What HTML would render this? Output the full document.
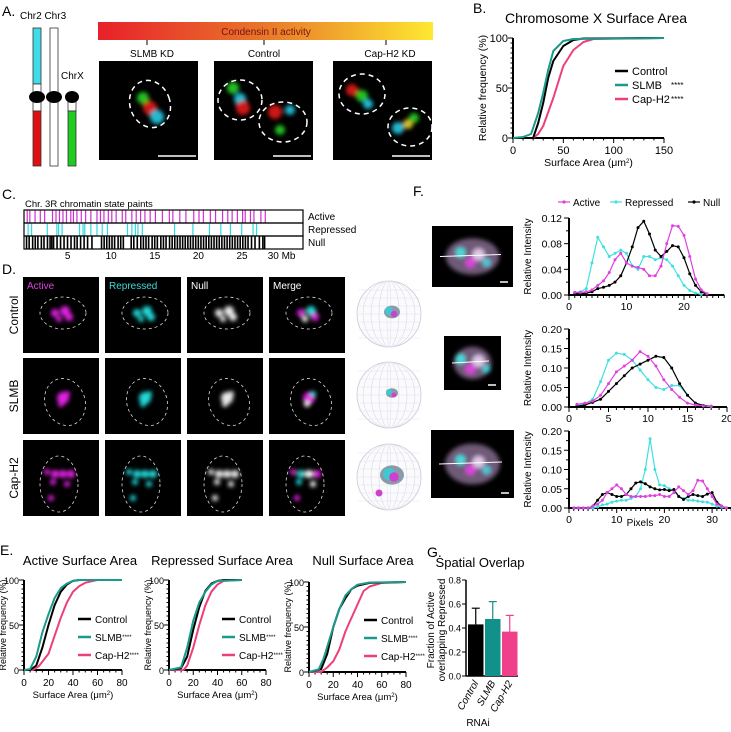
<!DOCTYPE html>
<html><head><meta charset="utf-8"><style>
html,body{margin:0;padding:0;background:#fff}
svg{display:block;font-family:"Liberation Sans",Arial,sans-serif}
</style></head><body>
<svg id="fig" width="731" height="732" viewBox="0 0 731 732" xmlns="http://www.w3.org/2000/svg">
<defs>
<linearGradient id="cond" x1="0" x2="1" y1="0" y2="0"><stop offset="0" stop-color="#e8202a"/><stop offset="0.5" stop-color="#e8782a"/><stop offset="1" stop-color="#fde830"/></linearGradient>
<filter id="bl" x="-50%" y="-50%" width="200%" height="200%"><feGaussianBlur stdDeviation="2.2"/></filter>
</defs>
<rect width="731" height="732" fill="#fff"/>
<g>
<text x="2" y="16" font-size="14">A.</text>
<text x="20" y="19" font-size="10">Chr2 Chr3</text>
<text x="61" y="79" font-size="10">ChrX</text>
<rect x="33" y="28" width="8" height="56" fill="#40dce8" stroke="#333" stroke-width="0.8"/>
<rect x="33" y="84" width="8" height="27" fill="#fff" stroke="#333" stroke-width="0.8"/>
<rect x="33" y="111" width="8" height="55" fill="#e01010" stroke="#333" stroke-width="0.8"/>
<rect x="50" y="28" width="8" height="138" fill="#fff" stroke="#333" stroke-width="0.8"/>
<rect x="68" y="97" width="8" height="14" fill="#fff" stroke="#333" stroke-width="0.8"/>
<rect x="68" y="111" width="8" height="55" fill="#20cc20" stroke="#333" stroke-width="0.8"/>
<ellipse cx="37" cy="97" rx="8" ry="6" fill="#000"/>
<ellipse cx="54" cy="97" rx="8" ry="6" fill="#000"/>
<ellipse cx="72" cy="97" rx="7" ry="6" fill="#000"/>
<rect x="98" y="22" width="335" height="18" fill="url(#cond)"/>
<text x="266" y="35" font-size="10" text-anchor="middle" fill="#7a1010">Condensin II activity</text>
<line x1="147" y1="40" x2="147" y2="45" stroke="#000"/><line x1="264" y1="40" x2="264" y2="45" stroke="#000"/><line x1="386" y1="40" x2="386" y2="45" stroke="#000"/>
<text x="152" y="57" font-size="10" text-anchor="middle">SLMB KD</text>
<text x="264" y="57" font-size="10" text-anchor="middle">Control</text>
<text x="390" y="57" font-size="10" text-anchor="middle">Cap-H2 KD</text>
<g>
<rect x="99" y="61" width="99" height="99" fill="#000"/>
<g filter="url(#bl)"><circle cx="143" cy="98" r="6" fill="#20c020"/><circle cx="150" cy="108" r="7" fill="#d01818"/><circle cx="157" cy="117" r="7" fill="#20b8d0"/></g>
<ellipse cx="150" cy="104" rx="20" ry="24" fill="none" stroke="#fff" stroke-width="1.5" stroke-dasharray="5 4" transform="rotate(-20 150 104)"/>
<line x1="158" y1="156" x2="196" y2="156" stroke="#fff" stroke-width="1.5"/>
</g>
<g>
<rect x="214" y="61" width="99" height="99" fill="#000"/>
<g filter="url(#bl)"><circle cx="233" cy="88" r="6" fill="#20c020"/><circle cx="240" cy="99" r="6" fill="#20b8d0"/><circle cx="243" cy="108" r="7" fill="#d01818"/><circle cx="275" cy="112" r="7" fill="#d01818"/><circle cx="290" cy="110" r="5" fill="#20b8d0"/><circle cx="280" cy="130" r="5" fill="#20c020"/></g>
<ellipse cx="240" cy="100" rx="22" ry="20" fill="none" stroke="#fff" stroke-width="1.5" stroke-dasharray="5 4"/>
<ellipse cx="283" cy="122" rx="24" ry="20" fill="none" stroke="#fff" stroke-width="1.5" stroke-dasharray="5 4"/>
<line x1="273" y1="156" x2="311" y2="156" stroke="#fff" stroke-width="1.5"/>
</g>
<g>
<rect x="333" y="61" width="99" height="99" fill="#000"/>
<g filter="url(#bl)"><circle cx="352" cy="90" r="6" fill="#d01818"/><circle cx="362" cy="96" r="6" fill="#20c020"/><circle cx="368" cy="104" r="5" fill="#20b8d0"/><circle cx="398" cy="128" r="6" fill="#20b8d0"/><circle cx="408" cy="124" r="5" fill="#d0c020"/><circle cx="414" cy="118" r="5" fill="#20c020"/></g>
<ellipse cx="362" cy="94" rx="23" ry="20" fill="none" stroke="#fff" stroke-width="1.5" stroke-dasharray="5 4"/>
<ellipse cx="410" cy="127" rx="22" ry="19" fill="none" stroke="#fff" stroke-width="1.5" stroke-dasharray="5 4"/>
<line x1="392" y1="156" x2="430" y2="156" stroke="#fff" stroke-width="1.5"/>
</g>
</g>
<g id="panelC">
<text x="2" y="199" font-size="14">C.</text>
<text x="25" y="207" font-size="9.5">Chr. 3R chromatin state paints</text>
<text x="308" y="220" font-size="10">Active</text>
<text x="308" y="233" font-size="10">Repressed</text>
<text x="308" y="246" font-size="10">Null</text>
</g>
<g id="panelD">
<text x="2" y="274" font-size="14">D.</text>
</g>
<g id="panelF">
<text x="413" y="196" font-size="14">F.</text>
</g>
<g id="panelB">
<text x="473" y="13" font-size="14">B.</text>
</g>
<g id="panelE">
<text x="0" y="555" font-size="14">E.</text>
</g>
<g id="panelG">
<text x="427" y="557" font-size="14">G.</text>
</g>
</svg>
<script>
// ---------- DATA ----------
const bControl=[[0,0],[10,0],[20,0],[25,15],[30,35],[35,60],[40,77],[50,92],[60,98],[70,99.5],[150,100]];
const bSlmb=[[0,0],[10,1],[18,4],[25,25],[30,45],[35,68],[40,87],[50,97],[60,99],[150,100]];
const bCap=[[0,0],[20,0],[25,4],[30,12],[40,40],[50,72],[60,88],[70,96],[80,99],[150,100]];
const eActControl=[[0,0],[5,0],[10,5],[15,25],[20,50],[25,72],[30,87],[35,95],[40,99],[45,100],[80,100]];
const eActSlmb=[[0,0],[5,1],[10,15],[15,42],[20,62],[25,80],[30,91],[35,96],[40,99],[45,100],[80,100]];
const eActCap=[[0,0],[7,0],[12,4],[20,18],[25,38],[30,58],[35,75],[40,87],[45,93],[50,97],[60,100],[80,100]];
const eRepControl=[[0,0],[10,2],[15,15],[20,45],[25,70],[30,88],[35,96],[40,99],[45,100],[60,100]];
const eRepSlmb=[[0,0],[10,3],[15,25],[20,55],[25,75],[30,87],[35,95],[40,99],[60,100]];
const eRepCap=[[0,0],[12,0],[15,5],[20,25],[25,50],[30,72],[35,87],[40,95],[45,99],[60,100]];
const eNullControl=[[0,0],[10,3],[15,20],[20,50],[25,70],[30,82],[35,92],[40,96],[50,99],[80,100]];
const eNullSlmb=[[0,0],[8,3],[12,15],[20,50],[25,70],[30,85],[35,92],[40,97],[50,99.5],[80,100]];
const eNullCap=[[0,0],[10,0],[15,5],[20,12],[25,25],[30,45],[35,60],[40,75],[45,90],[50,95],[60,99],[80,100]];
const f1Active=[.004,.004,.005,.008,.015,.022,.035,.055,.065,.05,.045,.043,.04,.03,.03,.045,.08,.108,.107,.093,.06,.025,.008,.002];
const f1Repressed=[.004,.005,.01,.05,.09,.075,.06,.065,.07,.065,.045,.04,.06,.06,.055,.058,.055,.045,.03,.015,.007,.003,.001];
const f1Null=[.002,.002,.003,.005,.01,.012,.015,.02,.03,.05,.075,.105,.115,.095,.07,.06,.068,.077,.075,.058,.033,.015,.005,.001];
const f2Active=[.007,.01,.015,.03,.06,.09,.105,.12,.142,.13,.105,.07,.045,.025,.01,.005,.003,.002];
const f2Repressed=[.003,.008,.02,.065,.12,.138,.135,.12,.095,.07,.05,.045,.055,.055,.03,.01,.003,.001];
const f2Null=[.002,.005,.012,.02,.04,.06,.08,.1,.11,.12,.13,.127,.1,.06,.03,.01,.004,.002];
const f3Active=[0,0,0,0,.005,.01,.02,.04,.05,.06,.05,.035,.03,.03,.03,.03,.032,.032,.035,.03,.03,.04,.055,.045,.035,.045,.072,.07,.05,.03,.01,.005,0];
const f3Repressed=[0,0,0,0,0,.003,.008,.01,.015,.018,.02,.02,.025,.03,.05,.1,.18,.1,.06,.058,.05,.045,.03,.025,.02,.02,.018,.016,.015,.01,.005,.002,0];
const f3Null=[0,0,0,0,.005,.02,.035,.04,.035,.03,.03,.035,.05,.065,.068,.063,.055,.05,.047,.048,.045,.048,.03,.022,.03,.035,.032,.03,.036,.04,.015,.005,0];
const gCategories=['Control','SLMB','Cap-H2'];
const gValues=[0.43,0.475,0.37];
const gErrors=[0.135,0.145,0.135];
const cActive=[0.3,0.6,1.2,1.8,2.3,3.2,3.6,4.0,4.4,4.8,5.3,5.6,6.0,6.5,7.0,7.6,8.3,8.7,9.1,9.6,10.0,10.5,11.2,11.6,12.3,12.8,13.3,13.8,14.4,15.0,15.8,16.6,17.0,17.8,18.5,19.4,20.0,20.5,21.3,21.9,22.7,23.3,23.8,24.4,25.0,25.3,25.9,26.3,27.1,27.6];
const cRepressed=[0.4,0.8,2.6,3.7,3.9,4.3,6.3,6.7,6.9,7.6,8.3,8.9,9.5,11.8,12.3,12.7,13.0,13.5,17.2,19.3,21.2,22.5,23.6,24.9,26.2,26.6];
const cNull=[0.2,0.5,0.9,1.2,1.5,1.9,2.2,2.6,2.9,3.1,3.3,3.7,4.1,4.5,4.9,5.3,5.7,6.0,6.4,6.8,7.2,7.7,8.8,9.1,9.4,9.7,10.0,10.3,10.7,11.0,11.3,12.2,12.5,12.9,13.3,13.6,13.9,14.2,14.6,14.9,15.2,15.6,15.9,16.2,16.6,16.9,17.2,17.5,17.8,18.1,18.4,18.7,19.0,19.3,19.6,19.9,20.2,20.5,20.8,21.1,21.4,21.7,22.0,22.3,22.6,22.9,23.2,23.5,23.8,24.1,24.4,24.7,25.0,25.3,25.6,26.0,26.4,26.9,27.3,27.5];
const cTicks=[5,10,15,20,25];

// ---------- HELPERS ----------
const NS='http://www.w3.org/2000/svg';
function el(tag,attrs,parent){const e=document.createElementNS(NS,tag);for(const k in attrs)e.setAttribute(k,attrs[k]);parent.appendChild(e);return e;}
function txt(s,x,y,attrs,parent){const t=el('text',Object.assign({x:x,y:y},attrs||{}),parent);t.textContent=s;return t;}
const COL={ctrl:'#000',slmb:'#1a9a8a',cap:'#ec3f7c',act:'#e040e0',rep:'#40e0e0'};

// ---------- PANEL C ----------
(function(){
  const g=document.getElementById('panelC');
  const x0=24, pxPerMb=8.72;
  const sx=v=>x0+v*pxPerMb;
  const rows=[[cActive,'#d030d0',210,'track-active'],[cRepressed,'#30d8e0',223,'track-repressed'],[cNull,'#000',236,'track-null']];
  rows.forEach(r=>{
    const tg=el('g',{},g);
    
    
    r[0].forEach(v=>{el('rect',{x:sx(v),y:r[2],width:r[1]==='#000'?1.6:1.2,height:13,fill:r[1]},tg);});
    el('rect',{x:24,y:r[2],width:279,height:13,fill:'none',stroke:'#000','stroke-width':1.2},tg);
  });
  cTicks.forEach(t=>txt(String(t),sx(t),259,{'font-size':10,'text-anchor':'middle'},g));
  txt('30 Mb',sx(30)-4,259,{'font-size':10,'text-anchor':'middle'},g);
})();

// ---------- PANEL D ----------
(function(){
  const g=document.getElementById('panelD');
  const cols=[23,105,187,269], rows=[277,358,440];
  const rowNames=['Control','SLMB','Cap-H2'];
  const colLabels=[['Active','#e040e0'],['Repressed','#40d8d8'],['Null','#fff'],['Merge','#fff']];
  const blobs=[
    [[32,36,4],[42,34,5],[36,42,3],[46,40,4]],
    [[40,40,6],[44,36,3],[38,46,3]],
    [[24,32,3],[32,34,4],[40,34,4],[48,34,4],[30,42,3],[44,44,3],[28,58,3]]
  ];
  const ell=[[40,36,23,16,0],[42,44,20,24,-20],[36,44,19,28,0]];
  const cc=[['#e020e0'],['#20d8d8'],['#e8e8e8'],['#e020e0','#20d8d8','#fff']];
  rows.forEach((ry,ri)=>{
    txt(rowNames[ri],0,0,{'font-size':12,'text-anchor':'middle',transform:`translate(18 ${ry+38}) rotate(-90)`},g);
    cols.forEach((cx,ci)=>{
      const ig=el('g',{},g);
      
      
      el('rect',{x:cx,y:ry,width:76,height:76,fill:'#000'},ig);
      const bg=el('g',{filter:'url(#bl)'},ig);
      blobs[ri].forEach((b,bi)=>{const cols2=cc[ci];el('circle',{cx:cx+b[0],cy:ry+b[1],r:b[2],fill:cols2[bi%cols2.length]},bg);});
      const e=ell[ri];
      el('ellipse',{cx:cx+e[0],cy:ry+e[1],rx:e[2],ry:e[3],fill:'none',stroke:'#ddd','stroke-width':0.8,'stroke-dasharray':'3 3',transform:`rotate(${e[4]} ${cx+e[0]} ${ry+e[1]})`},ig);
      if(ri===0) txt(colLabels[ci][0],cx+4,ry+12,{'font-size':10,fill:colLabels[ci][1]},ig);
    });
    const mg=el('g',{},g);
    
    
    const mx=389, my=ry+37;
    el('ellipse',{cx:mx,cy:my,rx:32,ry:33,fill:'#fbfbfd',stroke:'#c8c8d8','stroke-width':0.8},mg);
    for(let k=-24;k<=24;k+=8){el('ellipse',{cx:mx,cy:my,rx:Math.abs(k)+2,ry:33,fill:'none',stroke:'#dcdce8','stroke-width':0.5},mg);el('line',{x1:mx-31,y1:my+k,x2:mx+31,y2:my+k,stroke:'#e2e2ea','stroke-width':0.5},mg);}
    const sz=[8,6,12][ri];
    el('ellipse',{cx:mx+3,cy:my-2,rx:sz,ry:sz*0.8,fill:'#8a9aa8'},mg);
    el('circle',{cx:mx,cy:my-3,r:sz*0.5,fill:'#40c8d0'},mg);
    el('circle',{cx:mx+5,cy:my,r:sz*0.4,fill:'#d040d0'},mg);
    if(ri===2) el('circle',{cx:mx-10,cy:my+16,r:3.5,fill:'#d040d0'},mg);
  });
})();

// ---------- CDF CHART ----------
function cdfChart(p){
  const g=el('g',{},p.parent);
  
  
  const sx=v=>p.x0+(v/p.xmax)*(p.x1-p.x0);
  const sy=v=>p.y0-(v/100)*(p.y0-p.y1);
  txt(p.title,p.tx,p.ty,{'font-size':p.tfs,'text-anchor':'middle'},g);
  el('line',{x1:p.x0,y1:p.y0,x2:p.x1,y2:p.y0,stroke:'#000','stroke-width':2},g);
  el('line',{x1:p.x0,y1:p.y0+1,x2:p.x0,y2:p.y1,stroke:'#000','stroke-width':2},g);
  for(let v=0;v<=100;v+=5){el('line',{x1:p.x0-(v%50===0?5:2.5),y1:sy(v),x2:p.x0,y2:sy(v),stroke:'#000','stroke-width':1},g);}
  for(let v=0;v<=p.xmax;v+=p.xminor){const maj=v%p.xstep===0;el('line',{x1:sx(v),y1:p.y0,x2:sx(v),y2:p.y0+(maj?5:2.5),stroke:'#000','stroke-width':1},g);
    if(maj) txt(String(v),sx(v),p.y0+16,{'font-size':p.fs,'text-anchor':'middle'},g);}
  [0,50,100].forEach(v=>txt(String(v),p.x0-5,sy(v)+4,{'font-size':p.yfs||p.fs,'text-anchor':'end'},g));
  const xt=txt('Surface Area (',(p.x0+p.x1)/2,p.y0+28,{'font-size':p.fs-0.5,'text-anchor':'middle'},g);
  const ts=el('tspan',{},xt);ts.textContent='\u03bcm';const sup=el('tspan',{'baseline-shift':'super','font-size':6},xt);sup.textContent='2';const ts2=el('tspan',{},xt);ts2.textContent=')';
  txt('Relative frequency (%)',0,0,{'font-size':p.yfs||(p.fs-0.5),'text-anchor':'middle',transform:`translate(${p.ylx} ${(p.y0+p.y1)/2}) rotate(-90)`},g);
  const series=[[p.s[2],COL.cap,'cap-h2'],[p.s[0],COL.ctrl,'control'],[p.s[1],COL.slmb,'slmb']];
  series.forEach(s=>{
    const d=s[0].filter(pt=>pt[0]<=p.xend).map((pt,i)=>(i?'L':'M')+sx(pt[0]).toFixed(1)+' '+sy(pt[1]).toFixed(1)).join(' ');
    const path=el('path',{d:d,fill:'none',stroke:s[1],'stroke-width':2,'stroke-linejoin':'round'},g);
    
    
  });
  const L=p.leg;
  [['Control',COL.ctrl,''],['SLMB',COL.slmb,'****'],['Cap-H2',COL.cap,'****']].forEach((it,i)=>{
    const y=L.y+i*L.dy;
    const lg=el('g',{},g);
    
    
    el('line',{x1:L.x,y1:y,x2:L.x+13,y2:y,stroke:it[1],'stroke-width':2.5},lg);
    const t=txt(it[0],L.x+17,y+4,{'font-size':L.fs},lg);
    if(it[2]){
      if(L.sx){txt(it[2],L.sx,y+3,{'font-size':L.fs-3},lg);}
      else{const st=el('tspan',{'font-size':L.fs-4,dy:-2},t);st.textContent=it[2];}
    }
  });
}
cdfChart({parent:document.getElementById('panelB'),name:'chrx-surface-area-chart',title:'Chromosome X Surface Area',tx:596,ty:23,tfs:14,
  x0:513,x1:664,xmax:150,xend:150,xstep:50,xminor:10,y0:138,y1:38,fs:11,ylx:486,s:[bControl,bSlmb,bCap],
  leg:{x:615,y:71,dy:14,fs:11,sx:671}});
cdfChart({parent:document.getElementById('panelE'),name:'active-surface-area-chart',title:'Active Surface Area',tx:80,ty:565,tfs:13,
  x0:24,x1:122,xmax:80,xend:80,xstep:20,xminor:5,y0:670,y1:580,fs:10,yfs:9,ylx:6,s:[eActControl,eActSlmb,eActCap],
  leg:{x:78,y:619,dy:18,fs:10}});
cdfChart({parent:document.getElementById('panelE'),name:'repressed-surface-area-chart',title:'Repressed Surface Area',tx:222,ty:565,tfs:13,
  x0:169,x1:266,xmax:80,xend:60,xstep:20,xminor:5,y0:670,y1:580,fs:10,yfs:9,ylx:151,s:[eRepControl,eRepSlmb,eRepCap],
  leg:{x:222,y:619,dy:18,fs:10}});
cdfChart({parent:document.getElementById('panelE'),name:'null-surface-area-chart',title:'Null Surface Area',tx:363,ty:565,tfs:13,
  x0:309,x1:406,xmax:80,xend:80,xstep:20,xminor:5,y0:672,y1:582,fs:10,yfs:9,ylx:291,s:[eNullControl,eNullSlmb,eNullCap],
  leg:{x:364,y:620,dy:18,fs:10}});

// ---------- PANEL F ----------
(function(){
  const g=document.getElementById('panelF');
  [['Active',COL.act,558],['Repressed',COL.rep,610],['Null','#000',688]].forEach(it=>{
    const lg=el('g',{},g);
    
    
    el('line',{x1:it[2],y1:202,x2:it[2]+12,y2:202,stroke:it[1],'stroke-width':1.2},lg);
    el('circle',{cx:it[2]+6,cy:202,r:1.6,fill:it[1]},lg);
    txt(it[0],it[2]+15,206,{'font-size':10},lg);
  });
  const imgs=[[432,226,81,61],[444,336,57,54],[431,430,83,68]];
  imgs.forEach((im,i)=>{
    const ig=el('g',{},g);
    
    
    el('rect',{x:im[0],y:im[1],width:im[2],height:im[3],fill:'#000'},ig);
    const bg=el('g',{filter:'url(#bl)'},ig);
    const cx=im[0]+im[2]/2, cy=im[1]+im[3]/2;
    el('ellipse',{cx:cx,cy:cy,rx:im[2]*0.33,ry:im[3]*0.3,fill:'#705a78'},bg);
    el('circle',{cx:cx-12,cy:cy-4,r:5,fill:'#40e0e0'},bg);
    el('circle',{cx:cx+6,cy:cy-2,r:6,fill:'#e0c8e8'},bg);
    el('circle',{cx:cx-2,cy:cy+6,r:5,fill:'#e040e0'},bg);
    el('circle',{cx:cx+14,cy:cy+6,r:4,fill:'#40d0e0'},bg);
    el('line',{x1:im[0]+8,y1:cy,x2:im[0]+im[2]-12,y2:cy-2,stroke:'#fff','stroke-width':1},ig);
    el('line',{x1:im[0]+im[2]-13,y1:im[1]+im[3]-5,x2:im[0]+im[2]-5,y2:im[1]+im[3]-5,stroke:'#fff','stroke-width':1.5},ig);
  });
  const charts=[
    {y0:295,y1:218,ymax:0.12,yt:[0,0.04,0.08,0.12],xmax:27,xpx:5.75,xt:[0,10,20],s:[f1Repressed,f1Null,f1Active]},
    {y0:407,y1:329,ymax:0.20,yt:[0,0.05,0.1,0.15,0.2],xmax:20,xpx:7.9,xt:[0,5,10,15,20],s:[f2Repressed,f2Null,f2Active]},
    {y0:508,y1:431,ymax:0.20,yt:[0,0.05,0.1,0.15,0.2],xmax:34,xpx:4.77,xt:[0,10,20,30],s:[f3Repressed,f3Null,f3Active]}
  ];
  const x0=569;
  charts.forEach((c,ci)=>{
    const cg=el('g',{},g);
    
    
    const sx=v=>x0+v*c.xpx, sy=v=>c.y0-(v/c.ymax)*(c.y0-c.y1);
    el('line',{x1:x0,y1:c.y0,x2:sx(c.xmax),y2:c.y0,stroke:'#000','stroke-width':2},cg);
    el('line',{x1:x0,y1:c.y0+1,x2:x0,y2:c.y1,stroke:'#000','stroke-width':2},cg);
    for(let v=0;v<=c.xmax;v++){el('line',{x1:sx(v),y1:c.y0,x2:sx(v),y2:c.y0+(c.xt.includes(v)?5:3),stroke:'#000','stroke-width':1},cg);}
    c.xt.forEach(v=>txt(String(v),sx(v),c.y0+15,{'font-size':10.5,'text-anchor':'middle'},cg));
    c.yt.forEach(v=>{el('line',{x1:x0-5,y1:sy(v),x2:x0,y2:sy(v),stroke:'#000','stroke-width':1},cg);
      txt(v.toFixed(2),x0-7,sy(v)+4,{'font-size':10.5,'text-anchor':'end'},cg);});
    for(let k=0;k<c.yt.length-1;k++){const m=(c.yt[k]+c.yt[k+1])/2;el('line',{x1:x0-3,y1:sy(m),x2:x0,y2:sy(m),stroke:'#000','stroke-width':1},cg);}
    txt('Relative Intensity',0,0,{'font-size':10,'text-anchor':'middle',transform:`translate(${x0-38} ${(c.y0+c.y1)/2}) rotate(-90)`},cg);
    const cols=[COL.rep,'#000',COL.act], nm=['repressed','null','active'];
    c.s.forEach((arr,si)=>{
      const d=arr.map((v,i)=>(i?'L':'M')+sx(i+1).toFixed(1)+' '+sy(v).toFixed(1)).join(' ');
      const path=el('path',{d:d,fill:'none',stroke:cols[si],'stroke-width':1.2},cg);
      
      
      arr.forEach((v,i)=>el('circle',{cx:sx(i+1),cy:sy(v),r:1.5,fill:cols[si]},cg));
    });
    if(ci===2) txt('Pixels',640,526,{'font-size':10,'text-anchor':'middle'},cg);
  });
})();

// ---------- PANEL G ----------
(function(){
  const g=document.getElementById('panelG');
  txt('Spatial Overlap',480,567,{'font-size':13,'text-anchor':'middle'},g);
  const x0=466, y0=676, y1=580, ymax=0.8;
  const sy=v=>y0-(v/ymax)*(y0-y1);
  el('line',{x1:x0,y1:y0,x2:518,y2:y0,stroke:'#000','stroke-width':1.5},g);
  el('line',{x1:x0,y1:y0,x2:x0,y2:y1,stroke:'#000','stroke-width':1.5},g);
  [0,0.2,0.4,0.6,0.8].forEach(v=>{el('line',{x1:x0-4,y1:sy(v),x2:x0,y2:sy(v),stroke:'#000'},g);
    txt(v.toFixed(1),x0-5,sy(v)+3.5,{'font-size':9,'text-anchor':'end'},g);});
  txt('Fraction of Active',0,0,{'font-size':10,'text-anchor':'middle',transform:`translate(434 630) rotate(-90)`},g);
  txt('overlapping Repressed',0,0,{'font-size':10,'text-anchor':'middle',transform:`translate(445 630) rotate(-90)`},g);
  const cols=['#000','#12908a','#f0408a'];
  const bw=15.5, bx0=468;
  gCategories.forEach((c,i)=>{
    const x=bx0+i*(bw+1.5);
    const b=el('rect',{x:x,y:sy(gValues[i]),width:bw,height:y0-sy(gValues[i]),fill:cols[i]},g);
    
    
    const top=sy(gValues[i]+gErrors[i]);
    el('line',{x1:x+bw/2,y1:sy(gValues[i]),x2:x+bw/2,y2:top,stroke:cols[i],'stroke-width':1.2},g);
    el('line',{x1:x+bw/2-4,y1:top,x2:x+bw/2+4,y2:top,stroke:cols[i],'stroke-width':1.2},g);
    txt(c,0,0,{'font-size':10,'font-style':'italic','text-anchor':'end',transform:`translate(${x+bw/2+3} ${y0+7}) rotate(-60)`},g);
  });
  txt('RNAi',478,726,{'font-size':10,'text-anchor':'middle'},g);
})();
</script>
</body></html>
